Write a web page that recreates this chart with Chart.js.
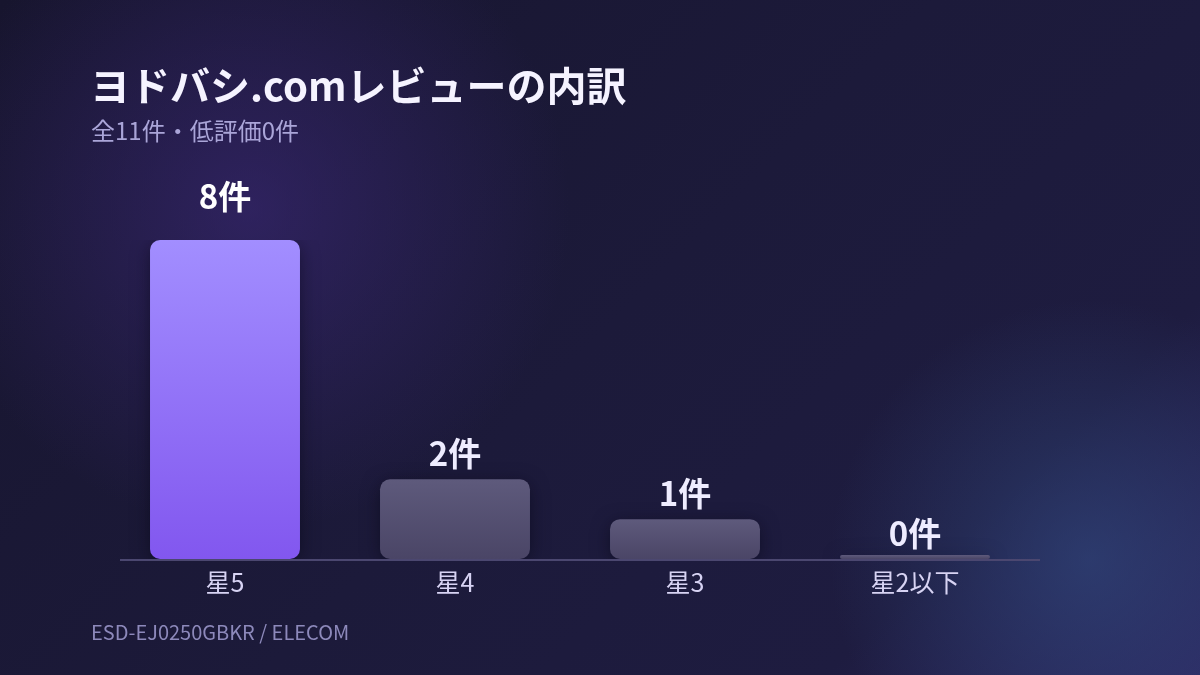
<!DOCTYPE html>
<html><head><meta charset="utf-8">
<script src="https://cdn.jsdelivr.net/npm/chart.js@4.4.1/dist/chart.umd.min.js"></script>
<style>
html,body{margin:0;padding:0;width:1200px;height:675px;overflow:hidden;}
body{font-family:"Noto Sans CJK JP","Noto Sans",sans-serif;
background:
 radial-gradient(circle at 250px 210px, rgba(62,42,125,0.58) 0px, rgba(62,42,125,0) 320px),
 radial-gradient(circle at 1090px 560px, rgba(50,75,130,0.6) 0px, rgba(50,75,130,0) 260px),
 linear-gradient(135deg,#17152e 0%,#1c1a3a 50%,#1e1c40 80%,#2c2860 100%);
position:relative;}
#t{position:absolute;left:90px;top:60px;font-size:40px;font-weight:700;color:#f5f3ff;line-height:1.2;}
#s{position:absolute;left:91px;top:114px;font-size:24px;color:#aaa5d8;line-height:1.3;}
#f{position:absolute;left:91px;top:619px;font-size:20px;color:#8d89bb;line-height:1.3;}
#wrap{position:absolute;left:0;top:0;width:1200px;height:675px;}
</style></head>
<body>
<div id="wrap"><canvas id="c" width="1200" height="675"></canvas></div>
<div id="t">ヨドバシ.comレビューの内訳</div>
<div id="s">全11件・低評価0件</div>
<div id="f">ESD-EJ0250GBKR / ELECOM</div>
<script>
const categories = ["星5","星4","星3","星2以下"];
const counts = [8,2,1,0];
const valueLabels = ["8件","2件","1件","0件"];
const highlightIndex = 0;

const FONT = '"Noto Sans CJK JP","Noto Sans",sans-serif';

function barFill(ctx){
  const chart = ctx.chart;
  const area = chart.chartArea;
  const ys = chart.scales && chart.scales.y;
  if(!area || !ys || !isFinite(area.top) || !isFinite(area.bottom)) return '#8a6cf5';
  const c = chart.ctx;
  if(ctx.dataIndex === highlightIndex){
    const g = c.createLinearGradient(0, area.top, 0, area.bottom);
    g.addColorStop(0,'#a28eff');
    g.addColorStop(1,'#8257ef');
    return g;
  }
  let top = ys.getPixelForValue(counts[ctx.dataIndex]);
  if(!isFinite(top)) top = area.top;
  top = Math.min(top, area.bottom-4);
  const g = c.createLinearGradient(0, top, 0, area.bottom);
  g.addColorStop(0,'#5e5a7c');
  g.addColorStop(1,'#4a4566');
  return g;
}

const baselinePlugin = {
  id:'baseline',
  beforeDatasetsDraw(chart){
    const a = chart.chartArea, c = chart.ctx;
    c.save();
    c.strokeStyle='#4b4770'; c.lineWidth=2;
    c.beginPath(); c.moveTo(a.left+10, a.bottom+1); c.lineTo(a.right+10, a.bottom+1); c.stroke();
    c.restore();
  }
};

const shadowPlugin = {
  id:'shadow',
  beforeDatasetDraw(chart){
    const c = chart.ctx; c.save();
    c.shadowColor='rgba(5,4,20,0.55)'; c.shadowBlur=18; c.shadowOffsetY=4;
  },
  afterDatasetDraw(chart){ chart.ctx.restore(); }
};

const labelPlugin = {
  id:'vlabels',
  afterDatasetsDraw(chart){
    const c = chart.ctx;
    const meta = chart.getDatasetMeta(0);
    const ys = chart.scales.y;
    c.save();
    c.textAlign='center'; c.textBaseline='alphabetic';
    c.font = '700 33px ' + FONT;
    meta.data.forEach((bar,i)=>{
      const top = ys.getPixelForValue(counts[i]);
      const gap = i===highlightIndex ? 28 : 10;
      c.fillStyle = i===highlightIndex ? '#ffffff' : '#eeecff';
      c.fillText(valueLabels[i], bar.x, top - gap - 3);
    });
    c.restore();
  }
};

new Chart(document.getElementById('c'),{
  type:'bar',
  data:{labels:categories,datasets:[{
    data:counts,
    backgroundColor:barFill,
    borderRadius:10,
    borderSkipped:false,
    minBarLength:4,
    barPercentage:0.652,
    categoryPercentage:1
  }]},
  options:{
    responsive:false,
    animation:false,
    devicePixelRatio:1,
    layout:{padding:{left:110,right:170,top:240,bottom:78}},
    plugins:{legend:{display:false},tooltip:{enabled:false}},
    scales:{
      x:{
        grid:{display:false},
        border:{display:false},
        ticks:{color:'#d7d3f3',font:{family:FONT,size:25},padding:0}
      },
      y:{
        display:false,
        min:0,max:8
      }
    }
  },
  plugins:[baselinePlugin,shadowPlugin,labelPlugin]
});
</script>
</body></html>
